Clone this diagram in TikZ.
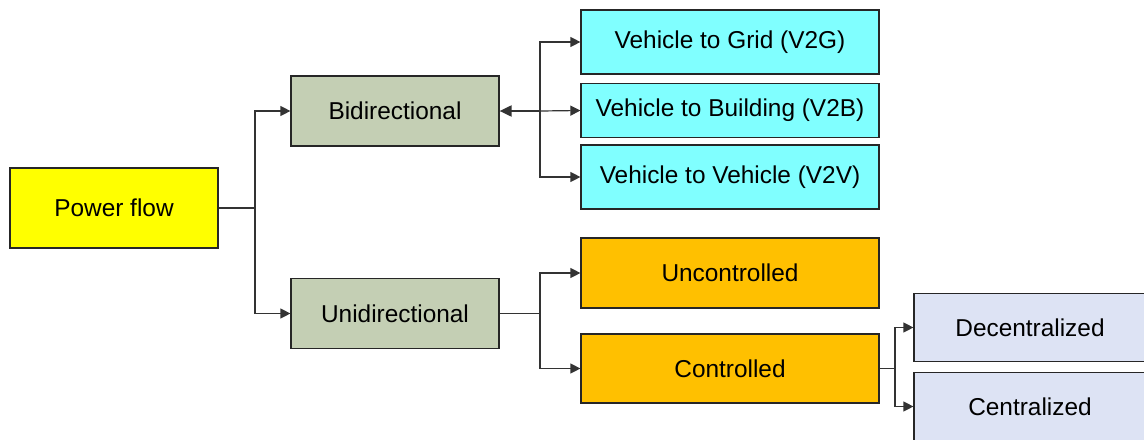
\documentclass[tikz,border=0pt]{standalone}
\usepackage{fontspec}
\setmainfont{Liberation Sans}
\usetikzlibrary{arrows.meta}
\definecolor{pfyellow}{RGB}{255,255,0}
\definecolor{dirgreen}{RGB}{196,207,180}
\definecolor{vcyan}{RGB}{128,255,255}
\definecolor{ctorange}{RGB}{255,192,0}
\definecolor{ctlav}{RGB}{221,227,244}
\tikzset{
  box/.style={draw=black!85,line width=0.6pt,inner sep=0pt,align=center,
    font=\fontsize{12.2}{14}\selectfont},
  link/.style={draw=black!80,line width=0.6pt},
  arr/.style={link,-{Triangle[length=5pt,width=5pt]}}
}
\begin{document}
\begin{tikzpicture}[x=0.5pt,y=-0.5pt]
    \useasboundingbox (0,0) rectangle (1144,439);
    \node[box,fill=pfyellow,minimum width=104pt,minimum height=40pt] (pf) at (114,208) {Power flow};
    \node[box,fill=dirgreen,minimum width=104pt,minimum height=35pt] (bi) at (395,111) {Bidirectional};
    \node[box,fill=dirgreen,minimum width=104pt,minimum height=35pt] (uni) at (395,313.5) {Unidirectional};
    \node[box,fill=vcyan,minimum width=149pt,minimum height=32pt] (v2g) at (730,42) {Vehicle to Grid (V2G)};
    \node[box,fill=vcyan,minimum width=149pt,minimum height=27pt] (v2b) at (730,110.5) {Vehicle to Building (V2B)};
    \node[box,fill=vcyan,minimum width=149pt,minimum height=32pt] (v2v) at (730,177) {Vehicle to Vehicle (V2V)};
    \node[box,fill=ctorange,minimum width=149pt,minimum height=35pt] (unc) at (730,273) {Uncontrolled};
    \node[box,fill=ctorange,minimum width=149pt,minimum height=34.5pt] (ctl) at (730,368.5) {Controlled};
    \node[box,fill=ctlav,minimum width=116pt,minimum height=34pt] (dec) at (1030,327.5) {Decentralized};
    \node[box,fill=ctlav,minimum width=116pt,minimum height=34pt] (cen) at (1030,406.5) {Centralized};
    % branch points
    \coordinate (j1) at (255,208);
    \coordinate (j2) at (540,111);
    \coordinate (j3) at (540,313.5);
    \coordinate (j4) at (895,368.5);
    \draw[link] (pf.east) -- (j1);
    \draw[arr] (j1) |- (bi.west);
    \draw[arr] (j1) |- (uni.west);
    \draw[link,line width=1pt,{Triangle[length=6pt,width=5.5pt]}-] (bi.east) -- (j2);
    \draw[arr] (j2) |- (v2g.west);
    \draw[arr] (j2) -- (v2b.west);
    \draw[arr] (j2) |- (v2v.west);
    \draw[link] (uni.east) -- (j3);
    \draw[arr] (j3) |- (unc.west);
    \draw[arr] (j3) |- (ctl.west);
    \draw[link] (ctl.east) -- (j4);
    \draw[arr] (j4) |- (dec.west);
    \draw[arr] (j4) |- (cen.west);
\end{tikzpicture}
\end{document}
